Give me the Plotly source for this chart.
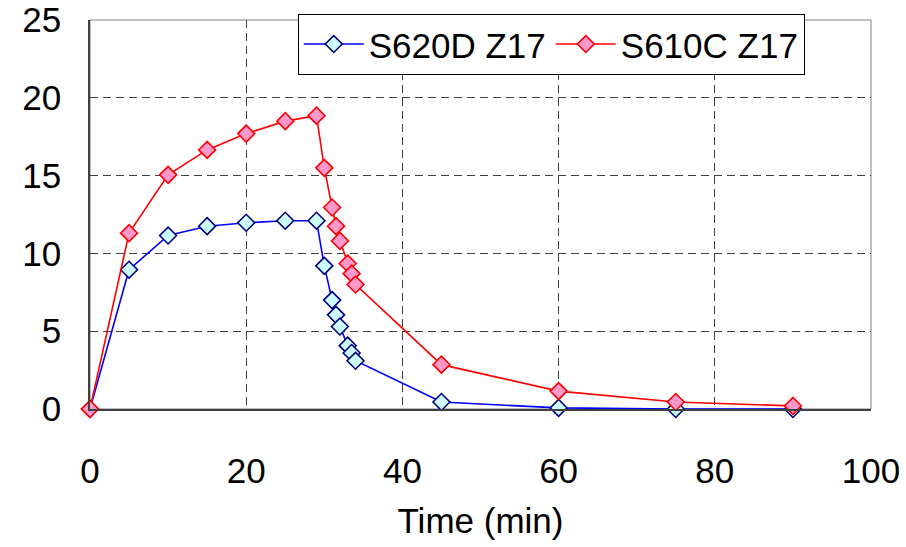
import plotly.graph_objects as go

time_min = [0, 5, 10, 15, 20, 25, 29, 30, 31, 31.5, 32, 33, 33.5, 34, 45, 60, 75, 90]
s620d_z17 = [0, 8.95, 11.15, 11.75, 11.97, 12.1, 12.1, 9.2, 7.0, 6.05, 5.3, 4.07, 3.6, 3.1, 0.45, 0.07, 0.0, 0.0]
s610c_z17 = [0, 11.3, 15.05, 16.65, 17.7, 18.5, 18.85, 15.5, 12.95, 11.75, 10.8, 9.35, 8.7, 8.0, 2.85, 1.15, 0.45, 0.2]

series_names = ["S620D Z17", "S610C Z17"]
x_ticks = [0, 20, 40, 60, 80, 100]
y_ticks = [0, 5, 10, 15, 20, 25]

fig = go.Figure()
fig.add_trace(go.Scatter(
    x=time_min, y=s620d_z17, name=series_names[0], mode="lines+markers",
    line=dict(color="#0000FF", width=1.6), cliponaxis=False,
    marker=dict(symbol="diamond", size=13, color="#CCFFFF",
                line=dict(color="#000080", width=1.6)),
))
fig.add_trace(go.Scatter(
    x=time_min, y=s610c_z17, name=series_names[1], mode="lines+markers",
    line=dict(color="#FF0000", width=1.6), cliponaxis=False,
    marker=dict(symbol="diamond", size=13, color="#FF99CC",
                line=dict(color="#FF0000", width=1.6)),
))

tick_font = dict(family="Liberation Sans, Arial", size=35, color="black")

fig.update_layout(
    width=906, height=547,
    margin=dict(l=90, r=35, t=20, b=138),
    paper_bgcolor="white", plot_bgcolor="white",
    showlegend=True,
    legend=dict(
        orientation="h", x=0.266, y=1.016, xanchor="left", yanchor="top",
        bgcolor="white", bordercolor="black", borderwidth=1,
        font=dict(family="Liberation Sans, Arial", size=35, color="black"),
        itemwidth=60, tracegroupgap=0,
    ),
    shapes=[dict(type="rect", xref="paper", yref="paper", x0=0, y0=0, x1=1, y1=1,
                 line=dict(color="#808080", width=1), layer="below")],
)

fig.update_xaxes(
    range=[0, 100], tickvals=x_ticks, ticktext=[str(v) for v in x_ticks],
    tickfont=tick_font, ticks="", ticklabelstandoff=30, automargin=False,
    ticklabeloverflow="allow",
    showgrid=True, gridcolor="#404040", gridwidth=1, griddash="8px,5px",
    showline=True, linecolor="#404040", linewidth=2, zeroline=False,
    title=dict(text="Time (min)", font=dict(family="Liberation Sans, Arial", size=35, color="black"), standoff=19),
)
fig.update_yaxes(
    range=[0, 25], tickvals=y_ticks, ticktext=[str(v) for v in y_ticks],
    tickfont=tick_font, ticks="", ticklabelstandoff=20, automargin=False,
    ticklabeloverflow="allow",
    showgrid=True, gridcolor="#404040", gridwidth=1, griddash="8px,5px",
    showline=True, linecolor="#404040", linewidth=1.5, zeroline=False,
)

fig.write_html("out.html")
